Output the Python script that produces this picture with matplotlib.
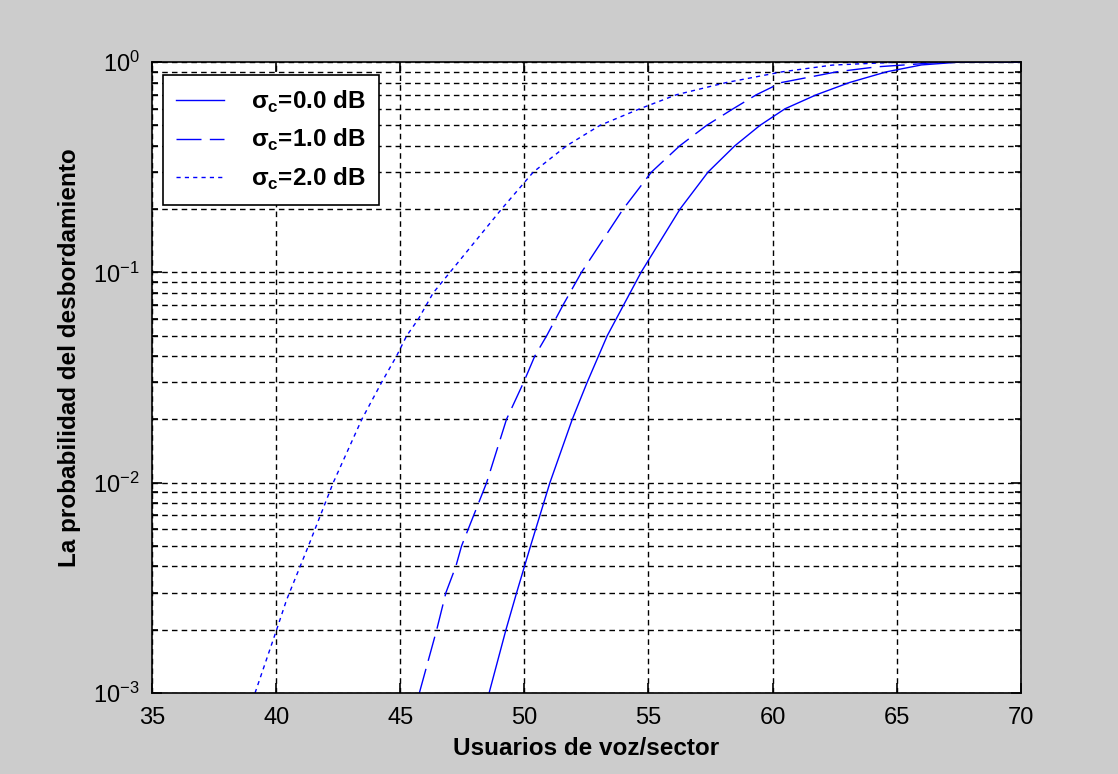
import matplotlib
matplotlib.use('Agg')
import matplotlib.pyplot as plt
from matplotlib.ticker import LogLocator, NullFormatter

plt.rcParams['font.family'] = ['Liberation Sans', 'DejaVu Sans']
plt.rcParams['mathtext.fontset'] = 'custom'
plt.rcParams['mathtext.rm'] = 'Liberation Sans'
plt.rcParams['mathtext.bf'] = 'Liberation Sans:bold'

# curvas: usuarios vs probabilidad
x_s0 = [48.58, 49.26, 49.69, 50.25, 51.03, 51.93, 52.53, 53.34, 54.7, 56.27,
        57.4, 58.48, 59.49, 60.5, 61.77, 63.1, 64.6, 66.0, 67.5, 70.0]
p_s0 = [1e-3, 2e-3, 3e-3, 5e-3, 1e-2, 2e-2, 3e-2, 5e-2, 0.1, 0.2,
        0.3, 0.4, 0.5, 0.6, 0.7, 0.8, 0.9, 0.97, 1.0, 1.0]

x_s1 = [45.77, 46.47, 46.84, 47.24, 47.47, 48.48, 49.28, 49.97, 50.42, 50.9,
        51.56, 52.3, 53.98, 55.12, 56.26, 57.34, 58.41, 59.35, 60.36, 62.6,
        64.2, 65.6, 66.8, 70.0]
p_s1 = [1e-3, 2e-3, 3e-3, 4e-3, 5e-3, 1e-2, 2e-2, 3e-2, 4e-2, 5e-2,
        7e-2, 0.1, 0.2, 0.3, 0.4, 0.5, 0.6, 0.7, 0.8, 0.9,
        0.95, 0.975, 1.0, 1.0]

x_s2 = [39.15, 40.02, 40.42, 41.3, 42.3, 43.45, 44.25, 44.85, 45.26, 45.73,
        46.33, 47.0, 49.08, 50.36, 51.7, 53.04, 54.65, 56.13, 58.14, 60.4,
        62.4, 63.8, 65.1, 70.0]
p_s2 = [1e-3, 2e-3, 2.77e-3, 5e-3, 1e-2, 2e-2, 3e-2, 4e-2, 5e-2, 6e-2,
        8e-2, 0.1, 0.2, 0.3, 0.4, 0.5, 0.6, 0.7, 0.8, 0.9,
        0.968, 0.985, 1.0, 1.0]

etiquetas = [r'σ$_{\mathbf{c}}$=0.0 dB', r'σ$_{\mathbf{c}}$=1.0 dB', r'σ$_{\mathbf{c}}$=2.0 dB']

fig = plt.figure(figsize=(11.18, 7.74), dpi=100, facecolor='#cccccc')
ax = fig.add_axes([0.136, 0.1047, 0.777, 0.815])

azul = '#0000ff'
ax.semilogy(x_s0, p_s0, color=azul, lw=1.0, label=etiquetas[0])
ax.semilogy(x_s1, p_s1, color=azul, lw=1.0, dashes=(18, 6), label=etiquetas[1])
ax.semilogy(x_s2, p_s2, color=azul, lw=1.0, dashes=(3, 3), label=etiquetas[2])

ax.set_xlim(35, 70)
ax.set_ylim(1e-3, 1)
ax.set_xticks([35, 40, 45, 50, 55, 60, 65, 70])
ax.yaxis.set_major_locator(LogLocator(base=10, numticks=10))
ax.yaxis.set_minor_locator(LogLocator(base=10, subs=range(2, 10), numticks=20))
ax.yaxis.set_minor_formatter(NullFormatter())

ax.grid(True, which='both', color='k', lw=1.0, linestyle=(0, (4, 3)))
ax.tick_params(which='both', direction='in', top=True, right=True, labelsize=17, width=1.2)
ax.tick_params(which='major', length=7)
ax.tick_params(which='minor', length=4)
ax.tick_params(axis='x', pad=10)
ax.tick_params(axis='y', pad=9)
for s in ax.spines.values():
    s.set_linewidth(1.2)

ax.set_xlabel('Usuarios de voz/sector', fontsize=17.5, fontweight='bold', labelpad=6)
ax.set_ylabel('La probabilidad del desbordamiento', fontsize=17.5, fontweight='bold')
ax.yaxis.set_label_coords(-0.082, 0.531)

leg = ax.legend(loc='upper left', bbox_to_anchor=(0.0127, 0.979), borderaxespad=0,
                fancybox=False, edgecolor='k', framealpha=1, handlelength=1.95,
                handletextpad=1.1, borderpad=0.55, labelspacing=0.5,
                prop={'size': 17.5, 'weight': 'bold'})
leg.get_frame().set_linewidth(1.2)

fig.savefig('out.png', dpi=100, facecolor=fig.get_facecolor())
